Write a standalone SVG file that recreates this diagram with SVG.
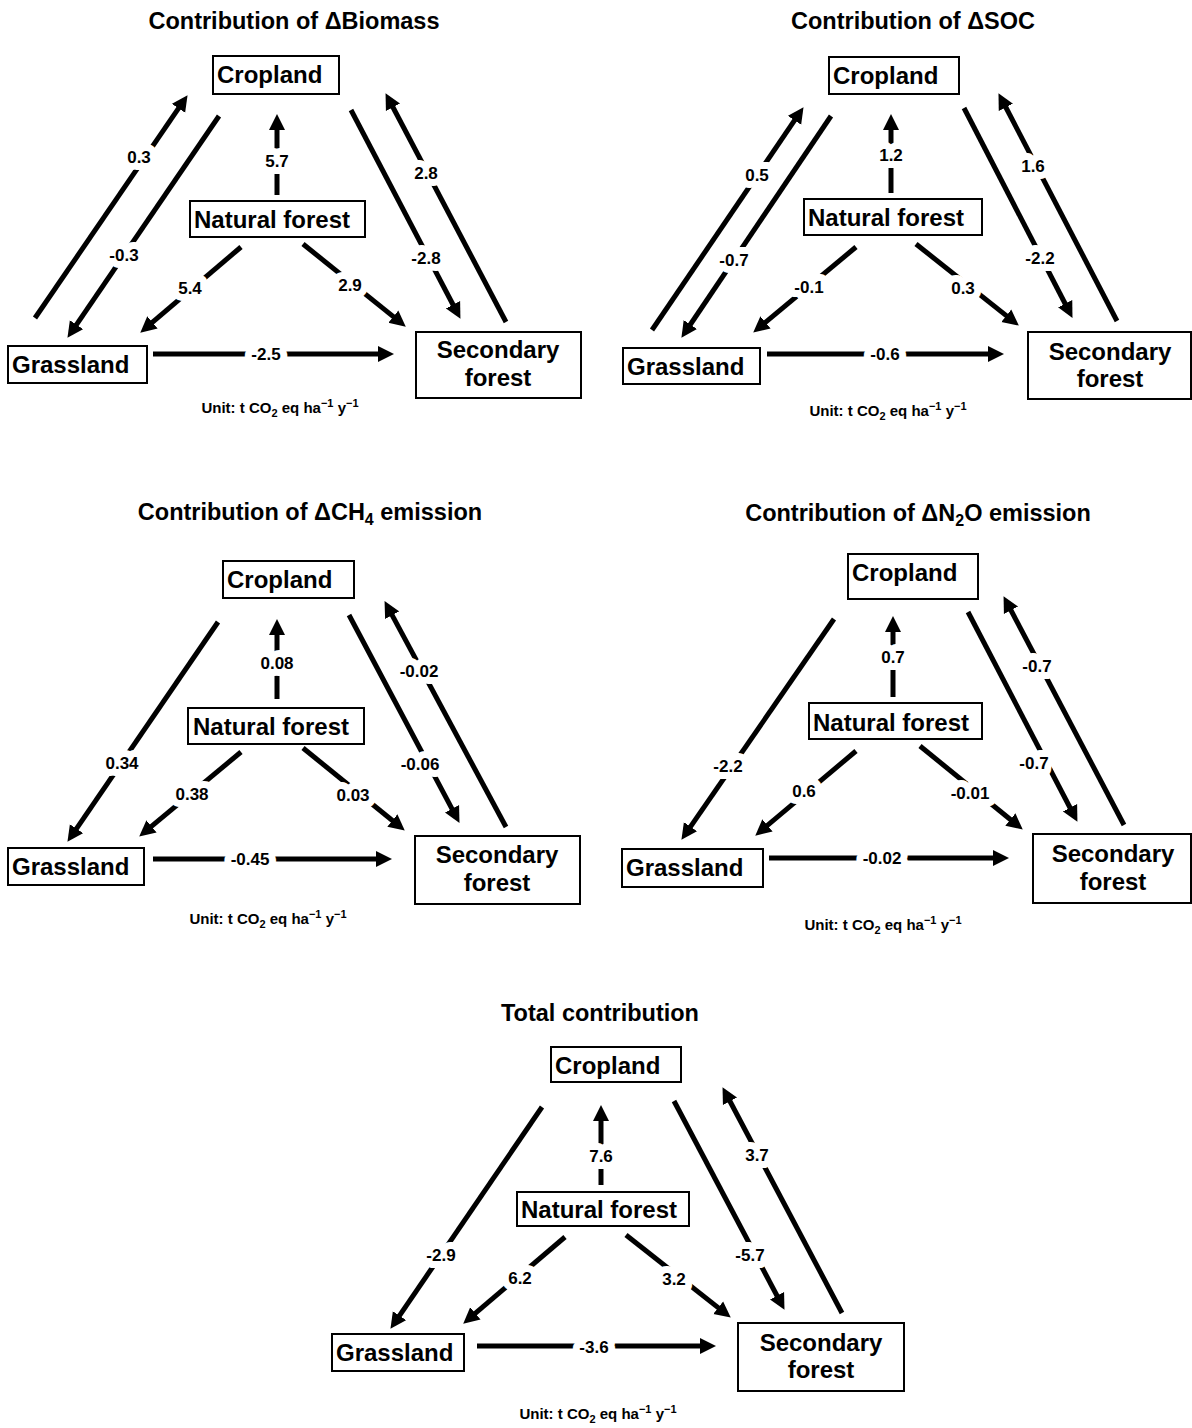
<svg xmlns="http://www.w3.org/2000/svg" width="1192" height="1428" viewBox="0 0 1192 1428">
<style>
.bx{fill:#fff;stroke:#000;stroke-width:2}
.n{font-family:"Liberation Sans",Arial,sans-serif;font-weight:bold;font-size:24px;fill:#000}
.c{text-anchor:middle}
.ti{font-family:"Liberation Sans",Arial,sans-serif;font-weight:bold;font-size:23.5px;text-anchor:middle;fill:#000}
.u{font-family:"Liberation Sans",Arial,sans-serif;font-weight:bold;font-size:15px;text-anchor:middle;fill:#000}
.s{font-size:11px}
.ts{font-size:16px}
.ar{fill:none;stroke:#000;stroke-width:5;marker-end:url(#ah)}
.l{font-family:"Liberation Sans",Arial,sans-serif;font-weight:bold;font-size:17px;text-anchor:middle;fill:#000;stroke:#fff;stroke-width:14;stroke-linejoin:round;paint-order:stroke}
</style>
<defs>
<marker id="ah" markerUnits="userSpaceOnUse" markerWidth="17" markerHeight="17" refX="6" refY="8" orient="auto" viewBox="0 0 17 16">
<path d="M0,0 L16,8 L0,16 Z" fill="#000"/>
</marker>
</defs>
<rect width="1192" height="1428" fill="#fff"/>

<!-- Panel 1 -->
<text class="ti" x="294" y="29">Contribution of ΔBiomass</text>
<g id="p1-connectors">
<path class="ar" d="M35,318 L181.9,103.4"/>
<path class="ar" d="M219,116 L73.1,329.6"/>
<path class="ar" d="M277,195 L277,124"/>
<path class="ar" d="M241,247 L147.9,326.2"/>
<path class="ar" d="M303,244 L398,320.4"/>
<path class="ar" d="M153,354 L384,354"/>
<path class="ar" d="M351,110 L455.8,310"/>
<path class="ar" d="M506,322 L390.2,102"/>
<text class="l" x="139" y="157" dy="0.36em">0.3</text>
<text class="l" x="124" y="255" dy="0.36em">-0.3</text>
<text class="l" x="277" y="161" dy="0.36em">5.7</text>
<text class="l" x="190" y="288" dy="0.36em">5.4</text>
<text class="l" x="350" y="285" dy="0.36em">2.9</text>
<text class="l" x="266" y="354" dy="0.36em">-2.5</text>
<text class="l" x="426" y="258" dy="0.36em">-2.8</text>
<text class="l" x="426" y="173" dy="0.36em">2.8</text>
</g>
<g id="p1-cropland"><rect class="bx" x="213" y="56" width="126" height="38"/><text class="n" x="217" y="83">Cropland</text></g>
<g id="p1-natural"><rect class="bx" x="190" y="201" width="175" height="36"/><text class="n" x="194" y="228">Natural forest</text></g>
<g id="p1-grassland"><rect class="bx" x="8" y="346" width="139" height="37"/><text class="n" x="12" y="373">Grassland</text></g>
<g id="p1-secondary"><rect class="bx" x="416" y="332" width="165" height="66"/><text class="n c" x="498" y="358">Secondary</text><text class="n c" x="498" y="386">forest</text></g>
<text class="u" x="280" y="413">Unit: t CO<tspan class="s" dy="4">2</tspan><tspan dy="-4"> eq ha</tspan><tspan class="s" dy="-6">−1</tspan><tspan dy="6"> y</tspan><tspan class="s" dy="-6">−1</tspan></text>

<!-- Panel 2 -->
<text class="ti" x="913" y="29">Contribution of ΔSOC</text>
<g id="p2-connectors">
<path class="ar" d="M652,330 L797.9,115.4"/>
<path class="ar" d="M831,116 L687,329.5"/>
<path class="ar" d="M891,193 L891,124"/>
<path class="ar" d="M856,247 L760.9,326.2"/>
<path class="ar" d="M916,244 L1011,319.4"/>
<path class="ar" d="M767,354 L994,354"/>
<path class="ar" d="M964,108 L1067.9,309"/>
<path class="ar" d="M1117,321 L1003.1,102"/>
<text class="l" x="757" y="175" dy="0.36em">0.5</text>
<text class="l" x="734" y="260" dy="0.36em">-0.7</text>
<text class="l" x="891" y="155" dy="0.36em">1.2</text>
<text class="l" x="809" y="287" dy="0.36em">-0.1</text>
<text class="l" x="963" y="288" dy="0.36em">0.3</text>
<text class="l" x="885" y="354" dy="0.36em">-0.6</text>
<text class="l" x="1040" y="258" dy="0.36em">-2.2</text>
<text class="l" x="1033" y="166" dy="0.36em">1.6</text>
</g>
<g id="p2-cropland"><rect class="bx" x="829" y="57" width="130" height="37"/><text class="n" x="833" y="84">Cropland</text></g>
<g id="p2-natural"><rect class="bx" x="804" y="199" width="178" height="36"/><text class="n" x="808" y="226">Natural forest</text></g>
<g id="p2-grassland"><rect class="bx" x="623" y="348" width="137" height="36"/><text class="n" x="627" y="375">Grassland</text></g>
<g id="p2-secondary"><rect class="bx" x="1028" y="332" width="163" height="67"/><text class="n c" x="1110" y="360">Secondary</text><text class="n c" x="1110" y="387">forest</text></g>
<text class="u" x="888" y="416">Unit: t CO<tspan class="s" dy="4">2</tspan><tspan dy="-4"> eq ha</tspan><tspan class="s" dy="-6">−1</tspan><tspan dy="6"> y</tspan><tspan class="s" dy="-6">−1</tspan></text>

<!-- Panel 3 -->
<text class="ti" x="310" y="520">Contribution of ΔCH<tspan class="ts" dy="5">4</tspan><tspan dy="-5"> emission</tspan></text>
<g id="p3-connectors">
<path class="ar" d="M218,622 L73.1,833.6"/>
<path class="ar" d="M277,699 L277,629"/>
<path class="ar" d="M241,752 L146.9,830.2"/>
<path class="ar" d="M303,748 L397,824.3"/>
<path class="ar" d="M153,859 L382,859"/>
<path class="ar" d="M349,615 L454.8,814.1"/>
<path class="ar" d="M506,827 L389.3,609.9"/>
<text class="l" x="122" y="763" dy="0.36em">0.34</text>
<text class="l" x="277" y="663" dy="0.36em">0.08</text>
<text class="l" x="192" y="794" dy="0.36em">0.38</text>
<text class="l" x="353" y="795" dy="0.36em">0.03</text>
<text class="l" x="250" y="859" dy="0.36em">-0.45</text>
<text class="l" x="420" y="764" dy="0.36em">-0.06</text>
<text class="l" x="419" y="671" dy="0.36em">-0.02</text>
</g>
<g id="p3-cropland"><rect class="bx" x="223" y="561" width="131" height="37"/><text class="n" x="227" y="588">Cropland</text></g>
<g id="p3-natural"><rect class="bx" x="188" y="708" width="176" height="36"/><text class="n" x="193" y="735">Natural forest</text></g>
<g id="p3-grassland"><rect class="bx" x="8" y="848" width="136" height="37"/><text class="n" x="12" y="875">Grassland</text></g>
<g id="p3-secondary"><rect class="bx" x="415" y="836" width="165" height="68"/><text class="n c" x="497" y="863">Secondary</text><text class="n c" x="497" y="891">forest</text></g>
<text class="u" x="268" y="924">Unit: t CO<tspan class="s" dy="4">2</tspan><tspan dy="-4"> eq ha</tspan><tspan class="s" dy="-6">−1</tspan><tspan dy="6"> y</tspan><tspan class="s" dy="-6">−1</tspan></text>

<!-- Panel 4 -->
<text class="ti" x="918" y="521">Contribution of ΔN<tspan class="ts" dy="5">2</tspan><tspan dy="-5">O emission</tspan></text>
<g id="p4-connectors">
<path class="ar" d="M834,619 L687.1,831.6"/>
<path class="ar" d="M893,697 L893,626"/>
<path class="ar" d="M856,751 L762.9,829.2"/>
<path class="ar" d="M920,746 L1015,823.3"/>
<path class="ar" d="M769,858 L999,858"/>
<path class="ar" d="M968,612 L1072.8,813"/>
<path class="ar" d="M1124,825 L1008.2,605"/>
<text class="l" x="728" y="766" dy="0.36em">-2.2</text>
<text class="l" x="893" y="657" dy="0.36em">0.7</text>
<text class="l" x="804" y="791" dy="0.36em">0.6</text>
<text class="l" x="970" y="793" dy="0.36em">-0.01</text>
<text class="l" x="882" y="858" dy="0.36em">-0.02</text>
<text class="l" x="1034" y="763" dy="0.36em">-0.7</text>
<text class="l" x="1037" y="666" dy="0.36em">-0.7</text>
</g>
<g id="p4-cropland"><rect class="bx" x="848" y="554" width="130" height="45"/><text class="n" x="852" y="581">Cropland</text></g>
<g id="p4-natural"><rect class="bx" x="809" y="703" width="173" height="36"/><text class="n" x="813" y="731">Natural forest</text></g>
<g id="p4-grassland"><rect class="bx" x="622" y="849" width="141" height="38"/><text class="n" x="626" y="876">Grassland</text></g>
<g id="p4-secondary"><rect class="bx" x="1033" y="834" width="158" height="69"/><text class="n c" x="1113" y="862">Secondary</text><text class="n c" x="1113" y="890">forest</text></g>
<text class="u" x="883" y="930">Unit: t CO<tspan class="s" dy="4">2</tspan><tspan dy="-4"> eq ha</tspan><tspan class="s" dy="-6">−1</tspan><tspan dy="6"> y</tspan><tspan class="s" dy="-6">−1</tspan></text>

<!-- Panel 5 -->
<text class="ti" x="600" y="1021">Total contribution</text>
<g id="p5-connectors">
<path class="ar" d="M542,1107 L396.1,1320.6"/>
<path class="ar" d="M601,1185 L601,1115"/>
<path class="ar" d="M565,1237 L470.8,1317.2"/>
<path class="ar" d="M626,1235 L722.9,1311.4"/>
<path class="ar" d="M477,1346 L706,1346"/>
<path class="ar" d="M674,1101 L779.8,1301"/>
<path class="ar" d="M842,1313 L727.2,1096"/>
<text class="l" x="441" y="1255" dy="0.36em">-2.9</text>
<text class="l" x="601" y="1156" dy="0.36em">7.6</text>
<text class="l" x="520" y="1278" dy="0.36em">6.2</text>
<text class="l" x="674" y="1279" dy="0.36em">3.2</text>
<text class="l" x="594" y="1347" dy="0.36em">-3.6</text>
<text class="l" x="750" y="1255" dy="0.36em">-5.7</text>
<text class="l" x="757" y="1155" dy="0.36em">3.7</text>
</g>
<g id="p5-cropland"><rect class="bx" x="551" y="1047" width="130" height="35"/><text class="n" x="555" y="1074">Cropland</text></g>
<g id="p5-natural"><rect class="bx" x="517" y="1192" width="172" height="34"/><text class="n" x="521" y="1218">Natural forest</text></g>
<g id="p5-grassland"><rect class="bx" x="332" y="1334" width="132" height="37"/><text class="n" x="336" y="1361">Grassland</text></g>
<g id="p5-secondary"><rect class="bx" x="738" y="1323" width="166" height="68"/><text class="n c" x="821" y="1351">Secondary</text><text class="n c" x="821" y="1378">forest</text></g>
<text class="u" x="598" y="1419">Unit: t CO<tspan class="s" dy="4">2</tspan><tspan dy="-4"> eq ha</tspan><tspan class="s" dy="-6">−1</tspan><tspan dy="6"> y</tspan><tspan class="s" dy="-6">−1</tspan></text>
</svg>
